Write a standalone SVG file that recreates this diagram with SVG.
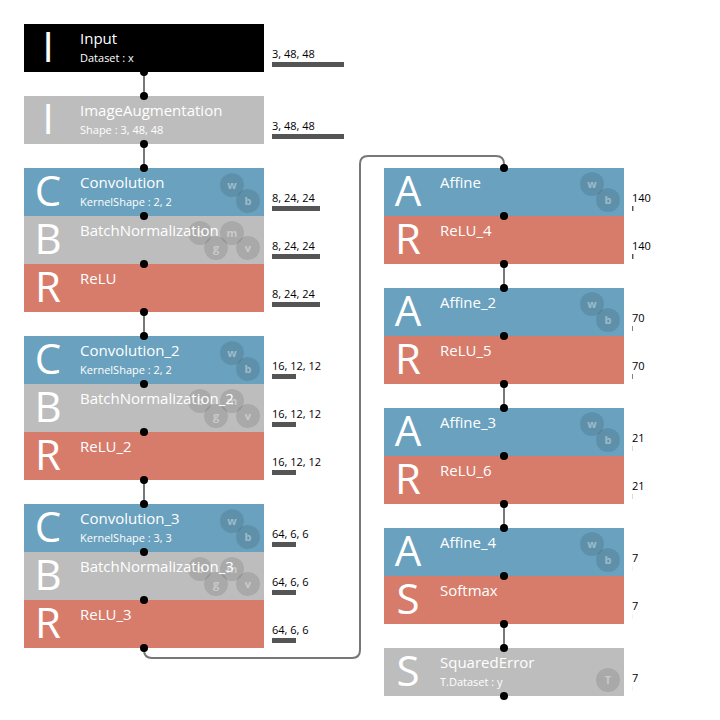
<svg xmlns="http://www.w3.org/2000/svg" width="720" height="720" viewBox="0 0 720 720">
<style>
text{font-family:"Segoe UI","Open Sans","Noto Sans",sans-serif}
.blk{fill:#000}.gry{fill:#bdbdbd}.blu{fill:#69a1be}.red{fill:#d77b6b}
.big{font-size:42px;fill:#fff;text-anchor:middle}
.t{font-size:15px;fill:#fff}
.s{font-size:11px;fill:#fff}
.lbl{font-size:11px;fill:#000}
.bar{fill:#555}
.bd{fill:#000;fill-opacity:.1}
.bt{font-size:11px;font-weight:bold;fill:#fff;fill-opacity:.4;text-anchor:middle}
.dot{fill:#000}
.ln{stroke:#777;stroke-width:2;fill:none}
</style>
<g id="nodes">
<g id="input"><rect class="blk" x="24" y="24" width="240" height="48"/><text class="big" x="48" y="62">I</text><text class="t" x="80" y="44">Input</text><text class="s" x="80" y="62">Dataset : x</text><text class="lbl" x="272" y="58">3, 48, 48</text><rect class="bar" x="272" y="62" width="72" height="5"/></g>
<g id="imageaugmentation"><rect class="gry" x="24" y="96" width="240" height="48"/><text class="big" x="48" y="134">I</text><text class="t" x="80" y="116">ImageAugmentation</text><text class="s" x="80" y="134">Shape : 3, 48, 48</text><text class="lbl" x="272" y="130">3, 48, 48</text><rect class="bar" x="272" y="134" width="72" height="5"/></g>

<g id="convolution"><rect class="blu" x="24" y="168" width="240" height="48"/><text class="big" x="48" y="206">C</text><circle class="bd" cx="232" cy="185" r="12"/><circle class="bd" cx="248" cy="201" r="12"/><text class="bt" x="232" y="189">w</text><text class="bt" x="248" y="205">b</text><text class="t" x="80" y="188">Convolution</text><text class="s" x="80" y="206">KernelShape : 2, 2</text><text class="lbl" x="272" y="202">8, 24, 24</text><rect class="bar" x="272" y="206" width="48" height="5"/></g>
<g id="batchnormalization"><rect class="gry" x="24" y="216" width="240" height="48"/><text class="big" x="48" y="254">B</text><circle class="bd" cx="200" cy="233" r="12"/><circle class="bd" cx="232" cy="233" r="12"/><circle class="bd" cx="216" cy="248" r="12"/><circle class="bd" cx="248" cy="248" r="12"/><text class="bt" x="200" y="237">b</text><text class="bt" x="232" y="237">m</text><text class="bt" x="216" y="252">g</text><text class="bt" x="248" y="252">v</text><text class="t" x="80" y="236">BatchNormalization</text><text class="lbl" x="272" y="250">8, 24, 24</text><rect class="bar" x="272" y="254" width="48" height="5"/></g>
<g id="relu"><rect class="red" x="24" y="264" width="240" height="48"/><text class="big" x="48" y="302">R</text><text class="t" x="80" y="284">ReLU</text><text class="lbl" x="272" y="298">8, 24, 24</text><rect class="bar" x="272" y="302" width="48" height="5"/></g>

<g id="convolution_2"><rect class="blu" x="24" y="336" width="240" height="48"/><text class="big" x="48" y="374">C</text><circle class="bd" cx="232" cy="353" r="12"/><circle class="bd" cx="248" cy="369" r="12"/><text class="bt" x="232" y="357">w</text><text class="bt" x="248" y="373">b</text><text class="t" x="80" y="356">Convolution_2</text><text class="s" x="80" y="374">KernelShape : 2, 2</text><text class="lbl" x="272" y="370">16, 12, 12</text><rect class="bar" x="272" y="374" width="24" height="5"/></g>
<g id="batchnormalization_2"><rect class="gry" x="24" y="384" width="240" height="48"/><text class="big" x="48" y="422">B</text><circle class="bd" cx="200" cy="401" r="12"/><circle class="bd" cx="232" cy="401" r="12"/><circle class="bd" cx="216" cy="416" r="12"/><circle class="bd" cx="248" cy="416" r="12"/><text class="bt" x="200" y="405">b</text><text class="bt" x="232" y="405">m</text><text class="bt" x="216" y="420">g</text><text class="bt" x="248" y="420">v</text><text class="t" x="80" y="404">BatchNormalization_2</text><text class="lbl" x="272" y="418">16, 12, 12</text><rect class="bar" x="272" y="422" width="24" height="5"/></g>
<g id="relu_2"><rect class="red" x="24" y="432" width="240" height="48"/><text class="big" x="48" y="470">R</text><text class="t" x="80" y="452">ReLU_2</text><text class="lbl" x="272" y="466">16, 12, 12</text><rect class="bar" x="272" y="470" width="24" height="5"/></g>

<g id="convolution_3"><rect class="blu" x="24" y="504" width="240" height="48"/><text class="big" x="48" y="542">C</text><circle class="bd" cx="232" cy="521" r="12"/><circle class="bd" cx="248" cy="537" r="12"/><text class="bt" x="232" y="525">w</text><text class="bt" x="248" y="541">b</text><text class="t" x="80" y="524">Convolution_3</text><text class="s" x="80" y="542">KernelShape : 3, 3</text><text class="lbl" x="272" y="538">64, 6, 6</text><rect class="bar" x="272" y="542" width="24" height="5"/></g>
<g id="batchnormalization_3"><rect class="gry" x="24" y="552" width="240" height="48"/><text class="big" x="48" y="590">B</text><circle class="bd" cx="200" cy="569" r="12"/><circle class="bd" cx="232" cy="569" r="12"/><circle class="bd" cx="216" cy="584" r="12"/><circle class="bd" cx="248" cy="584" r="12"/><text class="bt" x="200" y="573">b</text><text class="bt" x="232" y="573">m</text><text class="bt" x="216" y="588">g</text><text class="bt" x="248" y="588">v</text><text class="t" x="80" y="572">BatchNormalization_3</text><text class="lbl" x="272" y="586">64, 6, 6</text><rect class="bar" x="272" y="590" width="24" height="5"/></g>
<g id="relu_3"><rect class="red" x="24" y="600" width="240" height="48"/><text class="big" x="48" y="638">R</text><text class="t" x="80" y="620">ReLU_3</text><text class="lbl" x="272" y="634">64, 6, 6</text><rect class="bar" x="272" y="638" width="24" height="5"/></g>

<g id="affine"><rect class="blu" x="384" y="168" width="240" height="48"/><text class="big" x="408" y="206">A</text><circle class="bd" cx="592" cy="184" r="12"/><circle class="bd" cx="608" cy="200" r="12"/><text class="bt" x="592" y="188">w</text><text class="bt" x="608" y="204">b</text><text class="t" x="440" y="188">Affine</text><text class="lbl" x="632" y="202">140</text><rect class="bar" x="632" y="206" width="1.46" height="5"/></g>
<g id="relu_4"><rect class="red" x="384" y="216" width="240" height="48"/><text class="big" x="408" y="254">R</text><text class="t" x="440" y="236">ReLU_4</text><text class="lbl" x="632" y="250">140</text><rect class="bar" x="632" y="254" width="1.46" height="5"/></g>
<g id="affine_2"><rect class="blu" x="384" y="288" width="240" height="48"/><text class="big" x="408" y="326">A</text><circle class="bd" cx="592" cy="304" r="12"/><circle class="bd" cx="608" cy="320" r="12"/><text class="bt" x="592" y="308">w</text><text class="bt" x="608" y="324">b</text><text class="t" x="440" y="308">Affine_2</text><text class="lbl" x="632" y="322">70</text><rect class="bar" x="632" y="326" width="0.73" height="5"/></g>
<g id="relu_5"><rect class="red" x="384" y="336" width="240" height="48"/><text class="big" x="408" y="374">R</text><text class="t" x="440" y="356">ReLU_5</text><text class="lbl" x="632" y="370">70</text><rect class="bar" x="632" y="374" width="0.73" height="5"/></g>
<g id="affine_3"><rect class="blu" x="384" y="408" width="240" height="48"/><text class="big" x="408" y="446">A</text><circle class="bd" cx="592" cy="424" r="12"/><circle class="bd" cx="608" cy="440" r="12"/><text class="bt" x="592" y="428">w</text><text class="bt" x="608" y="444">b</text><text class="t" x="440" y="428">Affine_3</text><text class="lbl" x="632" y="442">21</text><rect class="bar" x="632" y="446" width="0.22" height="5"/></g>
<g id="relu_6"><rect class="red" x="384" y="456" width="240" height="48"/><text class="big" x="408" y="494">R</text><text class="t" x="440" y="476">ReLU_6</text><text class="lbl" x="632" y="490">21</text><rect class="bar" x="632" y="494" width="0.22" height="5"/></g>
<g id="affine_4"><rect class="blu" x="384" y="528" width="240" height="48"/><text class="big" x="408" y="566">A</text><circle class="bd" cx="592" cy="544" r="12"/><circle class="bd" cx="608" cy="560" r="12"/><text class="bt" x="592" y="548">w</text><text class="bt" x="608" y="564">b</text><text class="t" x="440" y="548">Affine_4</text><text class="lbl" x="632" y="562">7</text><rect class="bar" x="632" y="566" width="0.07" height="5"/></g>
<g id="softmax"><rect class="red" x="384" y="576" width="240" height="48"/><text class="big" x="408" y="614">S</text><text class="t" x="440" y="596">Softmax</text><text class="lbl" x="632" y="610">7</text><rect class="bar" x="632" y="614" width="0.07" height="5"/></g>
<g id="squarederror"><rect class="gry" x="384" y="648" width="240" height="48"/><text class="big" x="408" y="686">S</text><circle class="bd" cx="608" cy="680" r="12"/><text class="bt" x="608" y="684">T</text><text class="t" x="440" y="668">SquaredError</text><text class="s" x="440" y="686">T.Dataset : y</text><text class="lbl" x="632" y="682">7</text><rect class="bar" x="632" y="686" width="0.07" height="5"/></g>
</g>
<g id="connectors">
<path class="ln" d="M144,72V96M144,144V168M144,312V336M144,480V504M504,264V288M504,384V408M504,504V528M504,624V648"/>
<path class="ln" d="M144,648V650Q144,658 152,658H352Q360,658 360,650V164Q360,156 368,156H496Q504,156 504,164V168"/>
<g class="dot">
<circle cx="144" cy="72" r="4"/><circle cx="144" cy="96" r="4"/><circle cx="144" cy="144" r="4"/><circle cx="144" cy="168" r="4"/><circle cx="144" cy="216" r="4"/><circle cx="144" cy="264" r="4"/><circle cx="144" cy="312" r="4"/><circle cx="144" cy="336" r="4"/><circle cx="144" cy="384" r="4"/><circle cx="144" cy="432" r="4"/><circle cx="144" cy="480" r="4"/><circle cx="144" cy="504" r="4"/><circle cx="144" cy="552" r="4"/><circle cx="144" cy="600" r="4"/><circle cx="144" cy="648" r="4"/>
<circle cx="504" cy="168" r="4"/><circle cx="504" cy="216" r="4"/><circle cx="504" cy="264" r="4"/><circle cx="504" cy="288" r="4"/><circle cx="504" cy="336" r="4"/><circle cx="504" cy="384" r="4"/><circle cx="504" cy="408" r="4"/><circle cx="504" cy="456" r="4"/><circle cx="504" cy="504" r="4"/><circle cx="504" cy="528" r="4"/><circle cx="504" cy="576" r="4"/><circle cx="504" cy="624" r="4"/><circle cx="504" cy="648" r="4"/><circle cx="504" cy="696" r="4"/>
</g>
</g>
</svg>
